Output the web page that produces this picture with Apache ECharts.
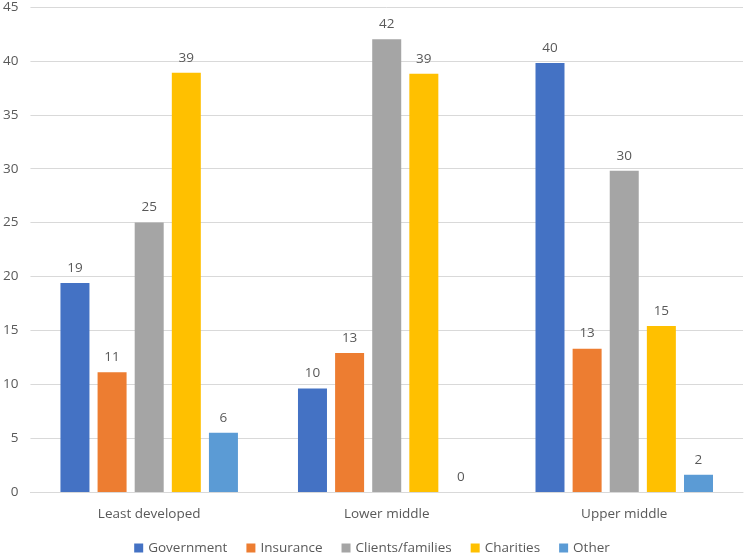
<!DOCTYPE html>
<html>
<head>
<meta charset="utf-8">
<script src="https://cdn.jsdelivr.net/npm/echarts@6/dist/echarts.min.js"></script>
<style>
html,body{margin:0;padding:0;background:#fff;}
#chart{width:744px;height:555px;}
</style>
</head>
<body>
<div id="chart"></div>
<script>
const categories = ['Least developed', 'Lower middle', 'Upper middle'];
const government = [19.4, 9.6, 39.8];
const insurance = [11.1, 12.9, 13.3];
const clients = [25.0, 42.0, 29.8];
const charities = [38.9, 38.8, 15.4];
const other = [5.5, 0, 1.6];

const chart = echarts.init(document.getElementById('chart'));
const font = 'Open Sans';
const textColor = '#595959';

function bar(name, data, color) {
    return {
        name: name,
        type: 'bar',
        data: data,
        barWidth: 29,
        barGap: '28%',
        itemStyle: { color: color },
        label: {
            show: true,
            position: 'top',
            distance: 8,
            color: textColor,
            fontFamily: font,
            fontSize: 13.5,
            formatter: p => Math.round(p.value)
        }
    };
}

const option = {
    animation: false,
    grid: { left: 30, right: 1, top: 7, bottom: 63 },
    legend: {
        top: 541,
        padding: 0,
        itemWidth: 9,
        itemHeight: 9,
        itemGap: 19,
        icon: 'rect',
        textStyle: { color: textColor, fontFamily: font, fontSize: 13.5 }
    },
    xAxis: {
        type: 'category',
        data: categories,
        axisTick: { show: false },
        axisLine: { lineStyle: { color: '#d9d9d9' } },
        axisLabel: { color: textColor, fontFamily: font, fontSize: 13.5, margin: 15 }
    },
    yAxis: {
        type: 'value',
        min: 0,
        max: 45,
        interval: 5,
        splitLine: { lineStyle: { color: '#d9d9d9' } },
        axisLabel: { color: textColor, fontFamily: font, fontSize: 13.5, margin: 12 }
    },
    series: [
        bar('Government', government, '#4472C4'),
        bar('Insurance', insurance, '#ED7D31'),
        bar('Clients/families', clients, '#A5A5A5'),
        bar('Charities', charities, '#FFC000'),
        bar('Other', other, '#5B9BD5')
    ]
};
chart.setOption(option);
</script>
</body>
</html>
